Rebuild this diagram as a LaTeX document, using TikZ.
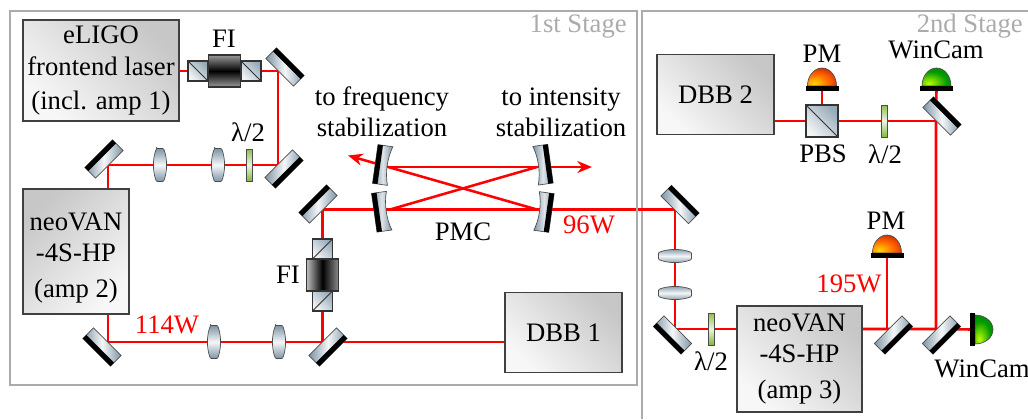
\documentclass[tikz,border=0pt]{standalone}
\usepackage{fontspec}
\usepackage{xcolor}
\usetikzlibrary{arrows.meta,backgrounds}
\setmainfont{Liberation Serif}
\definecolor{beamred}{HTML}{FF0000}
\definecolor{stagegray}{HTML}{ABABAB}
\definecolor{opticsteel}{HTML}{7D95A6}
\definecolor{platelime}{HTML}{7FB83A}
\pgfdeclareradialshading{pmglow}{\pgfpoint{-14bp}{-18bp}}{color(0bp)=(yellow!70!orange);color(24bp)=(orange!75!red);color(52bp)=(red!60!black);color(100bp)=(red!50!black)}
\pgfdeclareradialshading{camglow}{\pgfpoint{-14bp}{-18bp}}{color(0bp)=(yellow!75!green);color(28bp)=(green!60!black);color(55bp)=(green!50!black);color(100bp)=(green!40!black)}

\begin{document}
\begin{tikzpicture}[x=.75pt,y=-.75pt,>={Stealth[length=11pt,width=9pt]},font=\fontsize{20}{23.5}\selectfont,
 unit/.style={draw=black!75,line width=1pt,left color=black!3,right color=black!22,shading angle=135,align=center,inner sep=0pt},
 cube/.style={draw=black!80,line width=.9pt,left color=opticsteel!10,right color=opticsteel!80,shading angle=135,inner sep=0pt,minimum size=#1},
 diagdown/.style={path picture={\draw[line width=.7pt] (path picture bounding box.north west)--(path picture bounding box.south east);}},
 diagup/.style={path picture={\draw[line width=.7pt] (path picture bounding box.south west)--(path picture bounding box.north east);}},
 faraday/.style={draw=black!80,line width=.9pt,inner sep=0pt,minimum width=24pt,minimum height=24pt},
 plate/.style={draw=black!70,line width=.6pt,top color=platelime!90,bottom color=platelime,middle color=platelime!15,inner sep=0pt,minimum width=5pt,minimum height=24pt},
 beam/.style={draw=beamred,line width=1.9pt},
 stage/.style={draw=stagegray,line width=2.2pt},
 tag/.style={anchor=base,inner sep=0pt},
 redtag/.style={tag,text=beamred},
 pics/mirror/.style={code={
  \shade[draw=black!70,line width=.5pt,left color=opticsteel,right color=opticsteel,middle color=opticsteel!8] (-19.5,-7.5) rectangle (19.5,7.5);
  \fill[black] (-19.5,-7.5) rectangle (19.5,-2.5);}},
 pics/pmcmirror/.style={code={
  \shade[draw=black!70,line width=.5pt,left color=opticsteel,right color=opticsteel,middle color=opticsteel!25] (-19.5,-7.5)--(19.5,-7.5)--(19.5,7.5) .. controls (7,3.5) and (-7,3.5) .. (-19.5,7.5)--cycle;
  \fill[black] (-19.5,-7.5) rectangle (19.5,-2.5);}},
 pics/lens/.style={code={
  \shade[draw=black!70,line width=.5pt,top color=opticsteel,bottom color=opticsteel,middle color=opticsteel!8,rounded corners=.6pt] (-3.5,-16.5)--(3.5,-16.5) .. controls (7.5,-7) and (7.5,7) .. (3.5,16.5)--(-3.5,16.5) .. controls (-7.5,7) and (-7.5,-7) .. (-3.5,-16.5)--cycle;}},
 pics/detector/.style={code={
  \shade[draw=black!70,line width=.5pt,shading=#1] (-14.5,-5) .. controls (-14.5,-15) and (-8,-23) .. (0,-23) .. controls (8,-23) and (14.5,-15) .. (14.5,-5)--cycle;
  \fill[black] (-16.5,-5) rectangle (16.5,0);}}]
\path[use as bounding box] (0,0) rectangle (1028,419);
\node[unit,minimum width=117pt,minimum height=75.75pt] (laser) at (101,70.5) {eLIGO\\frontend laser\\[2pt](incl. amp 1)};
\node[unit,shading angle=225,minimum width=79.5pt,minimum height=93.75pt] (amptwo) at (76,251.5) {\rule{0pt}{23pt}neoVAN\\-4S-HP\\[3.5pt](amp 2)};
\node[unit,minimum width=93.75pt,minimum height=79.5pt] (ampthree) at (799.5,359) {neoVAN\\-4S-HP\\[3.5pt](amp 3)};
\node[unit,minimum width=87.75pt,minimum height=60pt] (dbbone) at (563.5,332.5) {DBB 1};
\node[unit,minimum width=87.75pt,minimum height=60pt] (dbbtwo) at (715.5,94.5) {DBB 2};
\node[stage,minimum width=470.25pt,minimum height=280.5pt,inner sep=0pt] (stageone) at (323.5,198) {};
\coordinate (cnrA) at (278,71);
\coordinate (cnrB) at (278,165);
\coordinate (cnrC) at (108,165);
\coordinate (cnrD) at (108,342);
\coordinate (cnrE) at (322.5,342);
\coordinate (cnrF) at (322.5,209.5);
\coordinate (cnrG) at (675,209.5);
\coordinate (cnrH) at (675,329);
\coordinate (cnrJ) at (887,329);
\coordinate (cnrK) at (936,329);
\coordinate (cnrM) at (936,121);
\coordinate (pmcTL) at (388,167);
\coordinate (pmcTR) at (537,167);
\coordinate (pmcBL) at (390,209.5);
\coordinate (pmcBR) at (537,209.5);
\coordinate (outL) at (348,155.5);
\coordinate (outR) at (592,167);
\coordinate (pmtop) at (822,91);
\coordinate (camtop) at (936.5,91);
\coordinate (pmlow) at (887,258);
\coordinate (camside) at (970,329.5);
\coordinate (stagetwoA) at (642,419);
\coordinate (stagetwoB) at (642,11);
\coordinate (stagetwoC) at (1028,11);
\node[cube=15pt,diagdown] (fiA) at (198,71) {};
\node[cube=15pt,diagdown] (fiB) at (251,71) {};
\node[faraday,top color=black!40,bottom color=black!40,middle color=black] (fiC) at (224.5,71) {};
\node[cube=15pt,diagup] (fiD) at (322.5,249) {};
\node[cube=15pt,diagup] (fiE) at (322.5,301) {};
\node[faraday,left color=black!25,right color=black!45,middle color=black] (fiF) at (322.5,275) {};
\node[cube=24pt,diagdown] (pbs) at (822,121) {};
\node[plate] (hwpA) at (249.5,165) {};
\node[plate] (hwpB) at (884.5,121) {};
\node[plate] (hwpC) at (711.5,329) {};
\pic[rotate=-45] (mirA) at (285,67) {mirror};
\pic[rotate=-135] (mirB) at (284,169) {mirror};
\pic[rotate=45] (mirC) at (104,159) {mirror};
\pic[rotate=135] (mirD) at (102,347) {mirror};
\pic[rotate=-135] (mirE) at (328,347) {mirror};
\pic[rotate=45] (mirF) at (318,204) {mirror};
\pic[rotate=-45] (mirG) at (680,204.5) {mirror};
\pic[rotate=135] (mirH) at (672.5,335) {mirror};
\pic[rotate=-135] (mirJ) at (893.5,335) {mirror};
\pic[rotate=-135] (mirK) at (941.5,335) {mirror};
\pic[rotate=-45] (mirM) at (942,116) {mirror};
\pic[rotate=82] (pmcA) at (382.7,165) {pmcmirror};
\pic[rotate=98] (pmcB) at (381.7,211.7) {pmcmirror};
\pic[rotate=-82] (pmcC) at (543,164.7) {pmcmirror};
\pic[rotate=-98] (pmcD) at (544,212) {pmcmirror};
\pic (lensA) at (160,165) {lens};
\pic (lensB) at (218,165) {lens};
\pic (lensC) at (214,342) {lens};
\pic (lensD) at (279,342) {lens};
\pic[rotate=90] (lensE) at (675,256) {lens};
\pic[rotate=90] (lensF) at (675,293) {lens};
\pic (detA) at (pmtop) {detector=pmglow};
\pic (detB) at (pmlow) {detector=pmglow};
\pic (detC) at (camtop) {detector=camglow};
\pic[rotate=-90] (detD) at (camside) {detector=camglow};
\node[tag] (fitop) at (224,47) {FI};
\node[tag] (filow) at (288,283) {FI};
\node[tag] (hwptextA) at (248,141) {λ/2};
\node[tag] (hwptextB) at (885,163) {λ/2};
\node[tag] (hwptextC) at (711,370) {λ/2};
\node[align=center,inner sep=0pt] (tofreq) at (382,112) {to frequency\\stabilization};
\node[align=center,inner sep=0pt] (toint) at (561,112) {to intensity\\stabilization};
\node[tag] (pmc) at (463,240) {PMC};
\node[redtag] (pwrA) at (589,233) {96W};
\node[redtag] (pwrB) at (167,333) {114W};
\node[redtag] (pwrC) at (849,292) {195W};
\node[tag] (pmtext) at (822,62) {PM};
\node[tag] (pmtextlow) at (886,229) {PM};
\node[tag] (camtext) at (936,58) {WinCam};
\node[tag] (camtextlow) at (982,377) {WinCam};
\node[tag] (pbstext) at (823,162) {PBS};
\node[tag,anchor=base east,text=stagegray] (stagetextA) at (627,32) {1st Stage};
\node[tag,anchor=base east,text=stagegray] (stagetextB) at (1023,32) {2nd Stage};
\begin{pgfonlayer}{background}
\draw[stage] (stagetwoA)--(stagetwoB)--(stagetwoC);
\draw[beam] (laser.east|-cnrA)--(cnrA)--(cnrB)--(cnrC)--(cnrC|-amptwo.north);
\draw[beam] (cnrD|-amptwo.south)--(cnrD)--(cnrE)--(cnrF)--(cnrG)--(cnrH)--(ampthree.west|-cnrH);
\draw[beam] (cnrE)--(dbbone.west|-cnrE);
\draw[beam] (ampthree.east|-cnrH)--(cnrJ)--(cnrK)--(camside);
\draw[beam] (cnrJ)--(pmlow);
\draw[beam] (cnrK)--(cnrM)--(camtop);
\draw[beam] (cnrM)--(dbbtwo.east|-cnrM);
\draw[beam] (pbs)--(pmtop);
\draw[beam] (pmcBL)--(pmcTR);
\draw[beam,->] (pmcBR)--(outL);
\draw[beam,->] (pmcTL)--(outR);
\end{pgfonlayer}
\end{tikzpicture}
\end{document}
